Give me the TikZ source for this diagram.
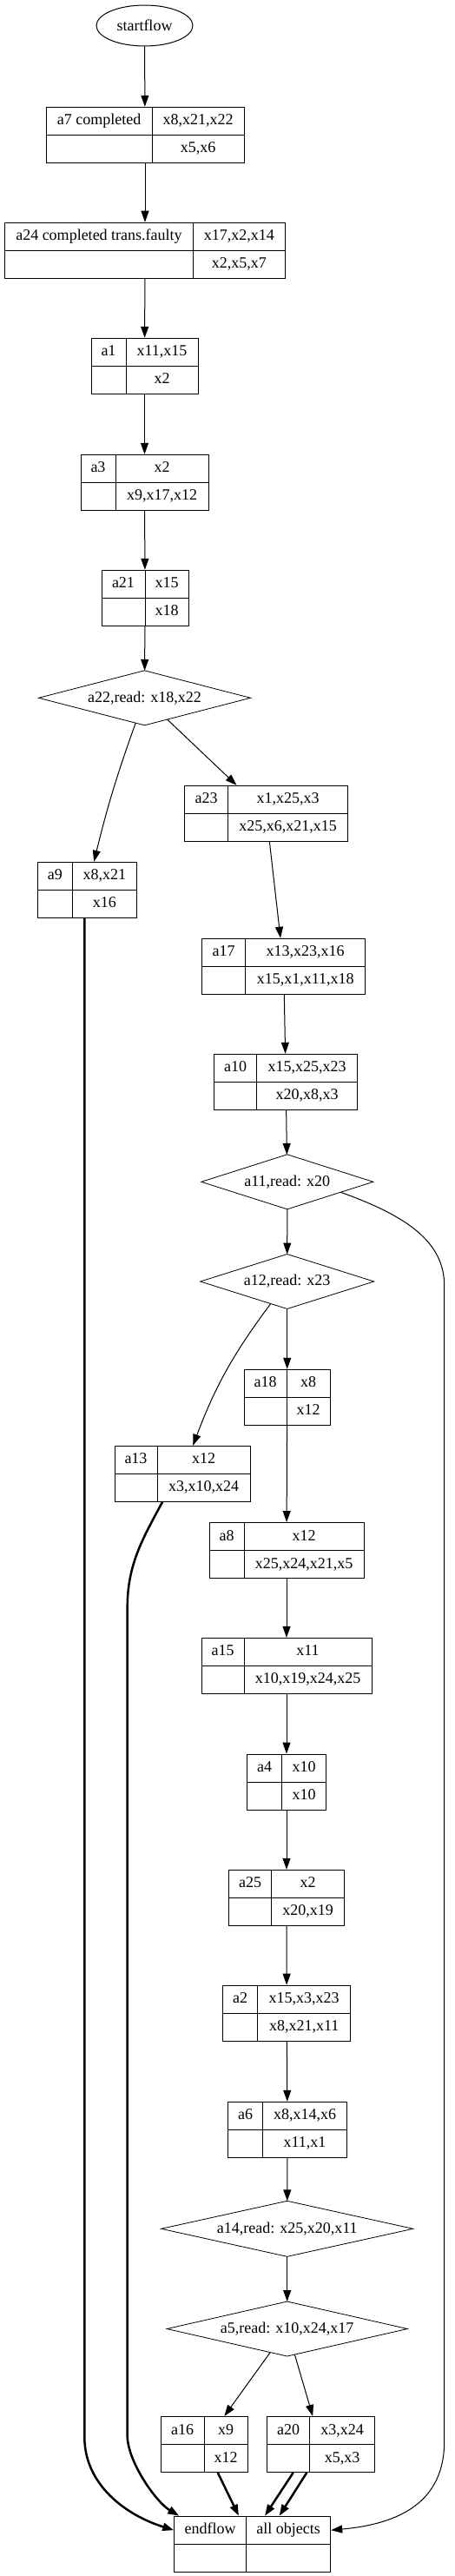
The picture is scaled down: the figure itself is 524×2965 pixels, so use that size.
\documentclass[tikz,border=0pt]{standalone}
\usepackage{fontspec}
\setmainfont{Liberation Serif}
\usetikzlibrary{shapes.geometric,arrows.meta,matrix,calc}

\begin{document}
\begin{tikzpicture}[
  x=1pt, y=-1pt,
  font=\fontsize{18}{21}\selectfont,
  >={Triangle[length=13pt, width=9pt]},
  start/.style={ellipse, draw, line width=1pt, minimum width=111pt, minimum height=47pt, inner sep=0pt},
  dec/.style={diamond, draw, line width=0.8pt, aspect=3.9, inner sep=0pt, outer sep=0pt},
  rec/.style 2 args={matrix of nodes, nodes in empty cells, inner sep=0pt, outer sep=0pt,
       column sep=-1pt, row sep=-1pt,
       nodes={draw, line width=1pt, minimum height=32pt, inner sep=0pt, outer sep=0pt,
              anchor=center, text height=13pt, text depth=4pt},
       column 1/.style={nodes={minimum width=#1}},
       column 2/.style={nodes={minimum width=#2}}},
  link/.style={->, line width=1pt},
  heavy/.style={->, line width=2.5pt},
]
\useasboundingbox (0,0) rectangle (524,2965);

% left column
\node[start] (startflow) at (166.5,29.5) {startflow};
\matrix (a7)  [rec={122pt}{106pt}] at (167,155.3) {a7 completed & x8,x21,x22 \\ & x5,x6 \\};
\matrix (a24) [rec={217pt}{106pt}] at (167,288.2) {a24 completed trans.faulty & x17,x2,x14 \\ & x2,x5,x7 \\};
\matrix (a1)  [rec={40pt}{83pt}]   at (166.5,421.3) {a1 & x11,x15 \\ & x2 \\};
\matrix (a3)  [rec={40pt}{107pt}]  at (166.5,555.3) {a3 & x2 \\ & x9,x17,x12 \\};
\matrix (a21) [rec={50pt}{50pt}]   at (167,688.3) {a21 & x15 \\ & x18 \\};
\node[dec, minimum width=244pt, minimum height=63pt] (a22) at (166.5,803.3) {a22,read: x18,x22};
\matrix (a9)  [rec={40pt}{74pt}]   at (100.3,1024.3) {a9 & x8,x21 \\ & x16 \\};

% right column
\matrix (a23) [rec={50pt}{138pt}]  at (306.7,936.3) {a23 & x1,x25,x3 \\ & x25,x6,x21,x15 \\};
\matrix (a17) [rec={50pt}{138pt}]  at (326.7,1112.3) {a17 & x13,x23,x16 \\ & x15,x1,x11,x18 \\};
\matrix (a10) [rec={49pt}{116pt}]  at (329.2,1245.3) {a10 & x15,x25,x23 \\ & x20,x8,x3 \\};
\node[dec, minimum width=198pt, minimum height=63pt] (a11) at (330.8,1360.3) {a11,read: x20};
\node[dec, minimum width=200pt, minimum height=63pt] (a12) at (330.7,1475) {a12,read: x23};
\matrix (a18) [rec={49pt}{50pt}]   at (330.7,1608.3) {a18 & x8 \\ & x12 \\};
\matrix (a13) [rec={49pt}{107pt}]  at (210,1696.3) {a13 & x12 \\ & x3,x10,x24 \\};
\matrix (a8)  [rec={40pt}{138pt}]  at (330,1784.5) {a8 & x12 \\ & x25,x24,x21,x5 \\};
\matrix (a15) [rec={49pt}{147pt}]  at (330,1917.3) {a15 & x11 \\ & x10,x19,x24,x25 \\};
\matrix (a4)  [rec={40pt}{51pt}]   at (330,2051) {a4 & x10 \\ & x10 \\};
\matrix (a25) [rec={49pt}{84pt}]   at (330,2184.3) {a25 & x2 \\ & x20,x19 \\};
\matrix (a2)  [rec={40pt}{107pt}]  at (330.2,2317.2) {a2 & x15,x3,x23 \\ & x8,x21,x11 \\};
\matrix (a6)  [rec={40pt}{97pt}]   at (331,2451.3) {a6 & x8,x14,x6 \\ & x11,x1 \\};
\node[dec, minimum width=290pt, minimum height=64pt] (a14) at (330.7,2565.3) {a14,read: x25,x20,x11};
\node[dec, minimum width=277pt, minimum height=63pt] (a5) at (330.7,2680.5) {a5,read: x10,x24,x17};
\matrix (a16) [rec={50pt}{50pt}]   at (235,2813.5) {a16 & x9 \\ & x12 \\};
\matrix (a20) [rec={49pt}{75pt}]   at (369.7,2813.5) {a20 & x3,x24 \\ & x5,x3 \\};

% end
\matrix (endflow) [rec={83pt}{97pt}] at (290.7,2928.2) {endflow & all objects \\ & \\};

% main flow
\draw[link] (startflow) -- (a7);
\draw[link] (a7)  -- (a24);
\draw[link] (a24) -- (a1);
\draw[link] (a1)  -- (a3);
\draw[link] (a3)  -- (a21);
\draw[link] (a21) -- (a22);
\draw[link] (a22) to[bend right=3] (a9);
\draw[link] (a22) -- (a23);
\draw[link] (a23) -- (a17);
\draw[link] (a17) -- (a10);
\draw[link] (a10) -- (a11);
\draw[link] (a11) -- (a12);
\draw[link] (a12) -- (a18);
\draw[link] (a12) to[bend right=8] (a13);
\draw[link] (a18) -- (a8);
\draw[link] (a8)  -- (a15);
\draw[link] (a15) -- (a4);
\draw[link] (a4)  -- (a25);
\draw[link] (a25) -- (a2);
\draw[link] (a2)  -- (a6);
\draw[link] (a6)  -- (a14);
\draw[link] (a14) -- (a5);
\draw[link] (a5)  -- (a16);
\draw[link] (a5)  -- (a20);

% into endflow
\draw[heavy] (a16) -- (endflow);
\draw[heavy] ($(a20.south)+(-32,0)$) -- ($(endflow.north)+(14.3,0)$);
\draw[heavy] ($(a20.south)+(-16.4,0)$) -- ($(endflow.north)+(31,0)$);
\draw[heavy] ($(a9.south)+(-3,0)$) -- (97.3,2805) .. controls (97.3,2860) and (145,2895) .. ([yshift=16pt]endflow.west);
\draw[heavy] ($(a13.south)+(-23,0)$) .. controls (165,1770) and (146.7,1800) .. (146.7,1850)
  -- (146.7,2805) .. controls (148,2835) and (180,2880) .. ($(endflow.north west)+(6,0)$);
\draw[link] (a11.-11.5) .. controls (470,1400) and (511.7,1430) .. (511.7,1480)
  -- (511.7,2810) .. controls (511.7,2880) and (460,2905) .. ([yshift=16pt]endflow.east);

\end{tikzpicture}
\end{document}
